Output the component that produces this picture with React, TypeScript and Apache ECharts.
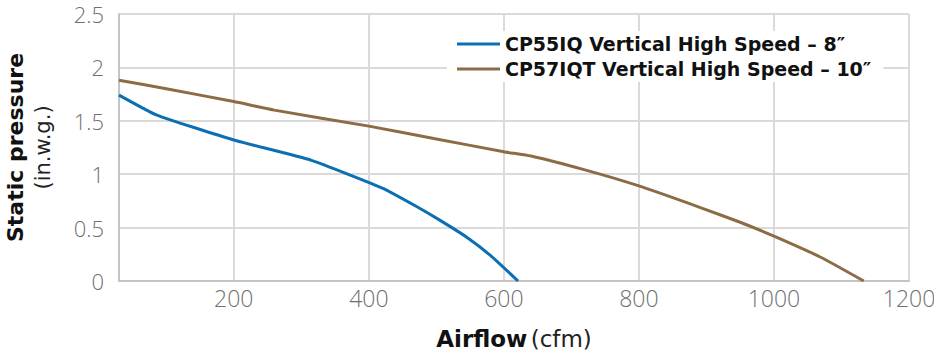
import React, { useEffect, useRef } from "react";
import * as echarts from "echarts";

const seriesNames = [
  "CP55IQ Vertical High Speed – 8″",
  "CP57IQT Vertical High Speed – 10″",
];
const cp55Airflow = [30, 85, 200, 315, 420, 470, 505, 545, 580, 621];
const cp55Pressure = [1.74, 1.556, 1.32, 1.13, 0.87, 0.7, 0.57, 0.41, 0.24, 0];
const cp57Airflow = [30, 100, 200, 260, 400, 500, 600, 640, 720, 800, 890, 950, 1000, 1070, 1133];
const cp57Pressure = [1.88, 1.8, 1.68, 1.6, 1.45, 1.33, 1.21, 1.17, 1.04, 0.89, 0.69, 0.55, 0.42, 0.22, 0];
const xTicks = [200, 400, 600, 800, 1000, 1200];
const colors = ["#0b6fb4", "#8c6c45"];

export default function App() {
  const ref = useRef<HTMLDivElement>(null);
  useEffect(() => {
    if (!ref.current) return;
    const chart = echarts.init(ref.current, undefined, { renderer: "svg" });
    const bold = "'DejaVu Sans', sans-serif";
    const light = "'Open Sans', 'DejaVu Sans', sans-serif";
    chart.setOption({
      animation: false,
      grid: { left: 119, right: 25, top: 14, bottom: 75, containLabel: false, outerBoundsMode: "none" },
      legend: {
        orient: "vertical",
        left: 447,
        top: 31,
        icon: "rect",
        itemWidth: 43,
        itemHeight: 3,
        itemGap: 5,
        backgroundColor: "#ffffff",
        padding: [3, 12, 3, 10],
        textStyle: { fontFamily: bold, fontWeight: "bold", fontSize: 19, color: "#111", lineHeight: 20 },
        data: seriesNames,
      },
      xAxis: {
        type: "value",
        min: 30,
        max: 1200,
        name: "{b|Airflow} {r|(cfm)}",
        nameLocation: "middle",
        nameGap: 46,
        nameTextStyle: {
          rich: {
            b: { fontFamily: bold, fontWeight: "bold", fontSize: 23, color: "#111" },
            r: { fontFamily: bold, fontSize: 23, color: "#222" },
          },
        },
        axisLine: { show: true, lineStyle: { color: "#c4c4c4", width: 2 } },
        axisTick: { show: false, customValues: xTicks },
        axisLabel: {
          customValues: xTicks,
          formatter: (v: number) => String(v),
          fontFamily: light,
          fontWeight: 300,
          fontSize: 23,
          color: "#707070",
          margin: 5,
        },
        splitLine: { show: true, lineStyle: { color: "#dadada", width: 2 } },
      },
      yAxis: {
        type: "value",
        min: 0,
        max: 2.5,
        interval: 0.5,
        name: "{b|Static pressure}\n{r|(in.w.g.)}",
        nameLocation: "middle",
        nameRotate: 90,
        nameGap: 64,
        nameTextStyle: {
          rich: {
            b: { fontFamily: bold, fontWeight: "bold", fontSize: 22, color: "#111", lineHeight: 32, align: "center" },
            r: { fontFamily: bold, fontSize: 21, color: "#222", lineHeight: 24, align: "center" },
          },
        },
        axisLine: { show: true, lineStyle: { color: "#c4c4c4", width: 2 } },
        axisTick: { show: false },
        axisLabel: {
          formatter: (v: number) => String(v),
          fontFamily: light,
          fontWeight: 300,
          fontSize: 22,
          color: "#707070",
          margin: 15,
        },
        splitLine: { show: true, lineStyle: { color: "#dadada", width: 2 } },
      },
      series: [
        {
          name: seriesNames[0],
          type: "line",
          data: cp55Airflow.map((x, i) => [x, cp55Pressure[i]]),
          showSymbol: false,
          smooth: 0.15,
          lineStyle: { color: colors[0], width: 3 },
          itemStyle: { color: colors[0] },
        },
        {
          name: seriesNames[1],
          type: "line",
          data: cp57Airflow.map((x, i) => [x, cp57Pressure[i]]),
          showSymbol: false,
          smooth: 0.15,
          lineStyle: { color: colors[1], width: 3 },
          itemStyle: { color: colors[1] },
        },
      ],
    });
    return () => chart.dispose();
  }, []);
  return <div ref={ref} style={{ width: 934, height: 356, position: "absolute", left: 0, top: 0 }} />;
}
